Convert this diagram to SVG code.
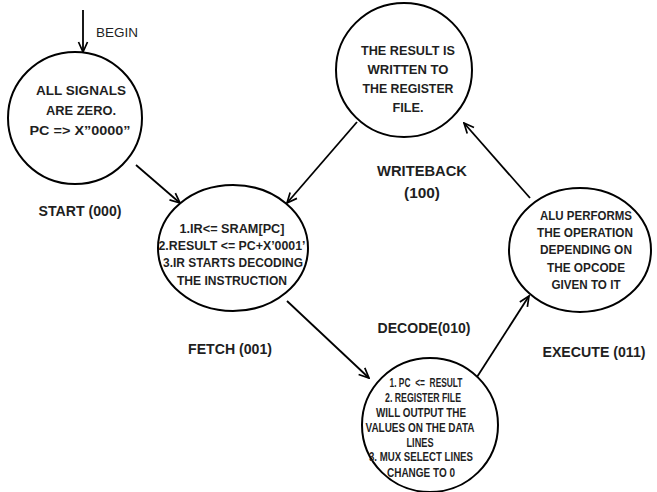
<svg xmlns="http://www.w3.org/2000/svg" width="657" height="492" viewBox="0 0 657 492">
<defs>
<style>
.node ellipse{fill:#fff;stroke:#000;stroke-width:2}
.t{font-family:"Liberation Sans",Arial,sans-serif;font-weight:bold;fill:#1f1f1f;text-anchor:middle}
.n{font-size:13.5px}
.s{font-size:12px}
.lbl{font-size:15px}
.begin{font-family:"Liberation Sans",Arial,sans-serif;font-size:13px;fill:#1f1f1f}
.conn line{stroke:#000;stroke-width:1.8;marker-end:url(#arr)}
</style>
<marker id="arr" viewBox="0 0 12 12" refX="11" refY="6" markerWidth="12" markerHeight="12" orient="auto" markerUnits="userSpaceOnUse">
<path d="M1,1.5 L11,6 L1,10.5" fill="none" stroke="#000" stroke-width="1.7"/>
</marker>
</defs>
<rect width="657" height="492" fill="#fff"/>

<g id="connectors" class="conn">
<line x1="83" y1="10" x2="83" y2="52"/>
<line x1="136" y1="165" x2="180" y2="203"/>
<line x1="357" y1="122" x2="287" y2="203"/>
<line x1="287" y1="301" x2="369" y2="378"/>
<line x1="477" y1="377" x2="529" y2="296"/>
<line x1="530" y1="198" x2="464" y2="123"/>
</g>
<text class="begin" x="96" y="37" textLength="42" lengthAdjust="spacingAndGlyphs">BEGIN</text>

<g id="start" class="node">
<ellipse cx="75" cy="118" rx="67" ry="66"/>
<text class="t n" x="81" y="95" textLength="90" lengthAdjust="spacingAndGlyphs">ALL SIGNALS</text>
<text class="t n" x="81" y="115" textLength="70" lengthAdjust="spacingAndGlyphs">ARE ZERO.</text>
<text class="t n" x="80" y="135" textLength="101" lengthAdjust="spacingAndGlyphs">PC =&gt; X”0000”</text>
<text class="t lbl" x="80" y="216" textLength="83" lengthAdjust="spacingAndGlyphs">START (000)</text>
</g>

<g id="fetch" class="node">
<ellipse cx="233" cy="248" rx="75" ry="63"/>
<text class="t n" x="232" y="233" textLength="105" lengthAdjust="spacingAndGlyphs">1.IR&lt;= SRAM[PC]</text>
<text class="t n" x="232" y="250" textLength="147" lengthAdjust="spacingAndGlyphs">2.RESULT &lt;= PC+X’0001’</text>
<text class="t n" x="233" y="267" textLength="140" lengthAdjust="spacingAndGlyphs">3.IR STARTS DECODING</text>
<text class="t n" x="232" y="285" textLength="110" lengthAdjust="spacingAndGlyphs">THE INSTRUCTION</text>
<text class="t lbl" x="230" y="354" textLength="84" lengthAdjust="spacingAndGlyphs">FETCH (001)</text>
</g>

<g id="writeback" class="node">
<ellipse cx="404" cy="70" rx="68" ry="67"/>
<text class="t n" x="408" y="55" textLength="94" lengthAdjust="spacingAndGlyphs">THE RESULT IS</text>
<text class="t n" x="408" y="74" textLength="81" lengthAdjust="spacingAndGlyphs">WRITTEN TO</text>
<text class="t n" x="408" y="93" textLength="91" lengthAdjust="spacingAndGlyphs">THE REGISTER</text>
<text class="t n" x="408" y="112" textLength="31" lengthAdjust="spacingAndGlyphs">FILE.</text>
<text class="t lbl" x="422" y="176" textLength="90" lengthAdjust="spacingAndGlyphs">WRITEBACK</text>
<text class="t lbl" x="422" y="198" textLength="36" lengthAdjust="spacingAndGlyphs">(100)</text>
</g>

<g id="execute" class="node">
<ellipse cx="580" cy="250" rx="71" ry="62"/>
<text class="t s" x="586" y="220" textLength="92" lengthAdjust="spacingAndGlyphs">ALU PERFORMS</text>
<text class="t s" x="585" y="237" textLength="96" lengthAdjust="spacingAndGlyphs">THE OPERATION</text>
<text class="t s" x="586" y="254" textLength="92" lengthAdjust="spacingAndGlyphs">DEPENDING ON</text>
<text class="t s" x="586" y="272" textLength="78" lengthAdjust="spacingAndGlyphs">THE OPCODE</text>
<text class="t s" x="586" y="289" textLength="69" lengthAdjust="spacingAndGlyphs">GIVEN TO IT</text>
<text class="t lbl" x="594" y="357" textLength="103" lengthAdjust="spacingAndGlyphs">EXECUTE (011)</text>
</g>

<g id="decode" class="node">
<ellipse cx="430" cy="425" rx="68" ry="67"/>
<text class="t s" x="426" y="387" textLength="73" lengthAdjust="spacingAndGlyphs" xml:space="preserve">1. PC  &lt;=  RESULT</text>
<text class="t s" x="423" y="402" textLength="76" lengthAdjust="spacingAndGlyphs">2. REGISTER FILE</text>
<text class="t s" x="421" y="417" textLength="90" lengthAdjust="spacingAndGlyphs">WILL OUTPUT THE</text>
<text class="t s" x="420" y="432" textLength="109" lengthAdjust="spacingAndGlyphs">VALUES ON THE DATA</text>
<text class="t s" x="420" y="447" textLength="27" lengthAdjust="spacingAndGlyphs">LINES</text>
<text class="t s" x="421" y="461" textLength="104" lengthAdjust="spacingAndGlyphs">3. MUX SELECT LINES</text>
<text class="t s" x="421" y="477" textLength="68" lengthAdjust="spacingAndGlyphs">CHANGE TO 0</text>
<text class="t lbl" x="424" y="333" textLength="93" lengthAdjust="spacingAndGlyphs">DECODE(010)</text>
</g>
</svg>
